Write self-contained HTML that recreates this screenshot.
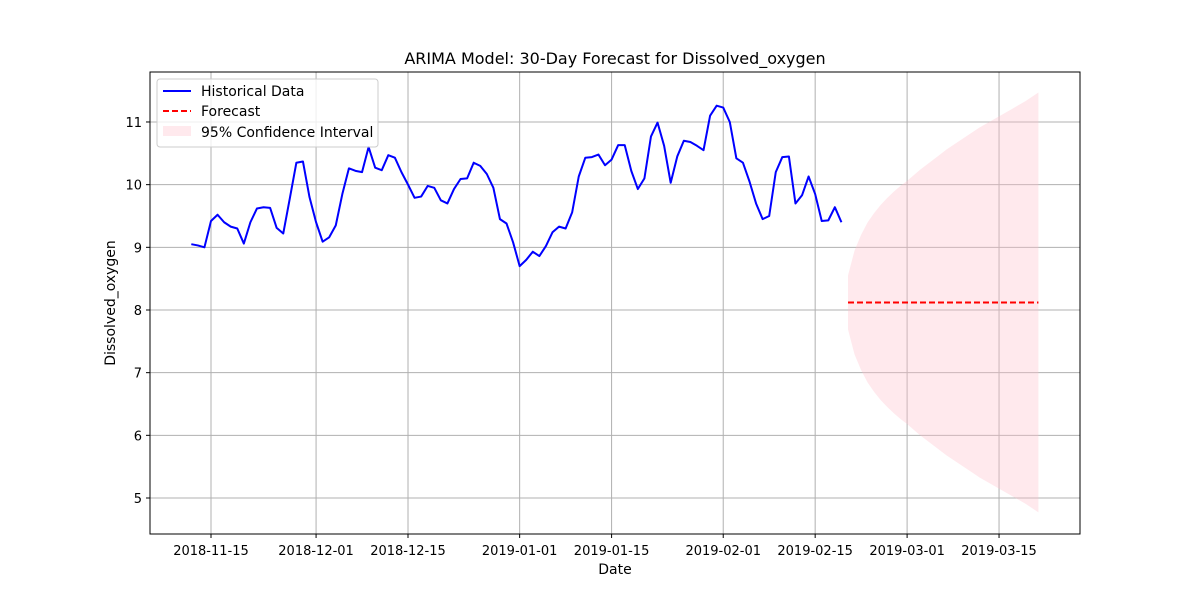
<!DOCTYPE html>
<html><head><meta charset="utf-8"><style>
body{margin:0;background:#fff;font-family:"Liberation Sans","DejaVu Sans",sans-serif}
svg text{font-family:"DejaVu Sans","Liberation Sans",sans-serif}
</style></head><body>
<svg id="chart" width="1200" height="600" xmlns="http://www.w3.org/2000/svg">
<rect width="1200" height="600" fill="#fff"/>
<text x="615" y="64" font-size="16" text-anchor="middle">ARIMA Model: 30-Day Forecast for Dissolved_oxygen</text>
<g id="grid"></g><g id="marks"></g>
<rect x="150" y="72" width="930" height="462" fill="none" stroke="#000" stroke-width="1"/>
<g id="ticks"></g>
<text x="615" y="574" font-size="14" text-anchor="middle">Date</text>
<text transform="translate(115,303) rotate(-90)" font-size="14" text-anchor="middle">Dissolved_oxygen</text>
<g>
<rect x="157" y="79" width="221" height="68" fill="#fff" fill-opacity="0.8" stroke="#ccc" rx="3"/>
<line x1="163" y1="91" x2="191" y2="91" stroke="#0000ff" stroke-width="2"/>
<text x="201" y="96" font-size="14">Historical Data</text>
<line x1="163" y1="111" x2="191" y2="111" stroke="#ff0000" stroke-width="2" stroke-dasharray="6,3"/>
<text x="201" y="116" font-size="14">Forecast</text>
<rect x="163" y="126" width="28" height="10" fill="pink" fill-opacity="0.35"/>
<text x="201" y="137" font-size="14">95% Confidence Interval</text>
</g>
</svg>
<script>
const histStart = "2018-11-12";
const historical = [9.05,9.03,9.0,9.42,9.52,9.40,9.33,9.30,9.06,9.40,9.62,9.64,9.63,9.31,9.22,9.78,10.35,10.37,9.80,9.40,9.09,9.16,9.35,9.85,10.26,10.22,10.20,10.60,10.27,10.23,10.47,10.43,10.20,10.0,9.79,9.81,9.98,9.95,9.75,9.70,9.93,10.09,10.10,10.35,10.30,10.17,9.95,9.45,9.38,9.08,8.70,8.80,8.93,8.86,9.02,9.24,9.33,9.30,9.56,10.13,10.43,10.44,10.48,10.31,10.40,10.63,10.63,10.22,9.93,10.10,10.77,10.99,10.62,10.03,10.45,10.70,10.68,10.62,10.55,11.10,11.26,11.23,11.00,10.42,10.35,10.05,9.70,9.45,9.50,10.20,10.44,10.45,9.70,9.83,10.13,9.85,9.42,9.43,9.64,9.40];
const forecast = [8.12,8.12,8.12,8.12,8.12,8.12,8.12,8.12,8.12,8.12,8.12,8.12,8.12,8.12,8.12,8.12,8.12,8.12,8.12,8.12,8.12,8.12,8.12,8.12,8.12,8.12,8.12,8.12,8.12,8.12];
const upperCI = [8.55,8.95,9.20,9.40,9.55,9.68,9.79,9.89,9.98,10.06,10.15,10.24,10.32,10.40,10.48,10.56,10.63,10.70,10.77,10.84,10.91,10.97,11.03,11.09,11.15,11.21,11.27,11.33,11.40,11.47];
const lowerCI = [7.69,7.29,7.04,6.84,6.69,6.56,6.45,6.35,6.26,6.18,6.09,6.00,5.92,5.84,5.76,5.68,5.61,5.54,5.47,5.40,5.33,5.27,5.21,5.15,5.09,5.03,4.97,4.91,4.84,4.77];
const xTicks = ["2018-11-15","2018-12-01","2018-12-15","2019-01-01","2019-01-15","2019-02-01","2019-02-15","2019-03-01","2019-03-15"];
const yTicks = [5,6,7,8,9,10,11];

const NS="http://www.w3.org/2000/svg";
const day0=Date.UTC(2018,10,15);
function dayOf(s){const p=s.split("-");return (Date.UTC(+p[0],+p[1]-1,+p[2])-day0)/86400000;}
function X(d){return 211+d*6.567;}
function Y(v){return 498-(v-5)*62.67;}
function mk(tag,attrs,parent){const e=document.createElementNS(NS,tag);for(const k in attrs)e.setAttribute(k,attrs[k]);parent.appendChild(e);return e;}
const grid=document.getElementById("grid"),marks=document.getElementById("marks"),ticks=document.getElementById("ticks");
xTicks.forEach(t=>{const x=X(dayOf(t));
 const g=mk("line",{x1:x,x2:x,y1:72,y2:534,stroke:"#b0b0b0","stroke-width":1},grid);
 
 
 mk("line",{x1:x,x2:x,y1:534,y2:538,stroke:"#000"},ticks);
 const tx=mk("text",{x:x,y:555,"font-size":13,"text-anchor":"middle"},ticks);tx.textContent=t;
 
 
});
yTicks.forEach(t=>{const y=Y(t);
 const g=mk("line",{x1:150,x2:1080,y1:y,y2:y,stroke:"#b0b0b0","stroke-width":1},grid);
 
 
 mk("line",{x1:146,x2:150,y1:y,y2:y,stroke:"#000"},ticks);
 const tx=mk("text",{x:142,y:y+5,"font-size":13,"text-anchor":"end"},ticks);tx.textContent=t;
 
 
});
const h0=dayOf(histStart), f0=h0+historical.length;
let pts=[];
for(let i=0;i<upperCI.length;i++)pts.push(X(f0+i)+","+Y(upperCI[i]));
for(let i=lowerCI.length-1;i>=0;i--)pts.push(X(f0+i)+","+Y(lowerCI[i]));
const band=mk("polygon",{points:pts.join(" "),fill:"pink","fill-opacity":0.35},marks);


const hl=mk("polyline",{points:historical.map((v,i)=>X(h0+i)+","+Y(v)).join(" "),fill:"none",stroke:"#0000ff","stroke-width":2,"stroke-linejoin":"round"},marks);


const fl=mk("polyline",{points:forecast.map((v,i)=>X(f0+i)+","+Y(v)).join(" "),fill:"none",stroke:"#ff0000","stroke-width":2,"stroke-dasharray":"6,3"},marks);


</script>
</body></html>
